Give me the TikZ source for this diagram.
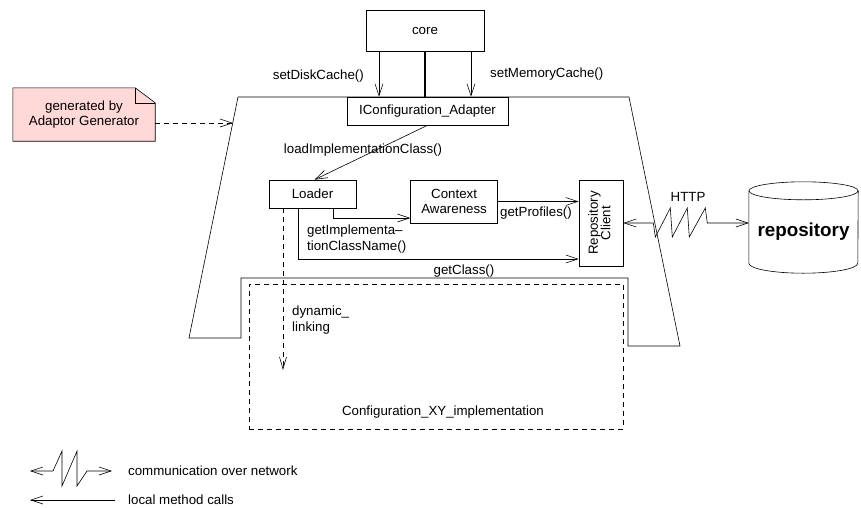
\documentclass[tikz,border=0pt]{standalone}
\usepackage{fontspec}
\setmainfont{Liberation Sans}
\usetikzlibrary{positioning,arrows.meta,backgrounds}
\definecolor{rose}{RGB}{255,216,216}
\tikzset{
  boite/.style={
    rectangle,
    draw=black,line width=0.6pt,
    inner sep=0pt,
    align=center},
  boitenote/.style={
    rectangle,
    inner sep=0pt,
    minimum width=142pt,
    minimum height=53pt,
    align=center},
  texte/.style={inner sep=0pt,align=left},
  line/.style = {draw,line width=0.6pt},
  appel/.style = {line,-{Straight Barb[length=12pt,width=8pt]}},
  tirets/.style = {line,dash pattern=on 5pt off 4pt},
}

\begin{document}
\begin{tikzpicture}[x=1pt,y=-1pt,font=\fontsize{13.3}{15.5}\selectfont]
  \useasboundingbox (0,0) rectangle (861,507);
  \draw[line] (238,97) -- (629,97) -- (680,346) -- (628,346) -- (628,278)
    -- (241,278) -- (241,338) -- (189,338) -- cycle;
  \coordinate (bord_gauche) at (233,123);

  \node[boite,minimum width=118pt,minimum height=41pt](core) at (425,30.5) {core};
  \node[boite,minimum width=161pt,minimum height=28pt](iconfiguration_adapter) at (427.5,111) {IConfiguration\_Adapter};
  \coordinate (core_g) at ([xshift=-46pt]core.south);
  \coordinate (core_d) at ([xshift=46pt]core.south);
  \draw[appel] (core_g) -- (core_g |- iconfiguration_adapter.north);
  \draw[line,line width=1.5pt] (core.south) -- (core.south |- iconfiguration_adapter.north);
  \draw[appel] (core_d) -- (core_d |- iconfiguration_adapter.north);
  \node[texte,anchor=east](set_disk_cache) at (364,76) {setDiskCache()};
  \node[texte,anchor=west](set_memory_cache) at (490,74) {setMemoryCache()};

  \node[boitenote](note) at (84,114.5) {generated by\\Adaptor Generator};
  \begin{scope}[on background layer]
    \filldraw[line,fill=rose] (note.north west) -- ([xshift=-20pt]note.north east)
      -- ([yshift=-15pt]note.north east) -- (note.south east) -- (note.south west) -- cycle;
  \end{scope}
  \draw[line] ([xshift=-20pt]note.north east) |- ([yshift=-15pt]note.north east);
  \draw[tirets,-{Straight Barb[length=12pt,width=8pt]}] ([yshift=-8.5pt]note.east) -- (bord_gauche);

  \node[boite,minimum width=87pt,minimum height=28pt](loader) at (312.5,194) {Loader};
  \node[boite,minimum width=87pt,minimum height=43pt](context_awareness)[right=54pt of loader.north east,anchor=north west] {Context\\Awareness};
  \node[boite,minimum width=44pt,minimum height=86pt](repository_client) at (601,223)
    {\rotatebox{90}{\begin{tabular}{@{}c@{}}Repository\\[-3pt]Client\end{tabular}}};
  \draw[appel] (iconfiguration_adapter.south) -- ([xshift=2pt]loader.north);
  \node[texte](load_implementation_class) at (363,150) {loadImplementationClass()};
  \draw[appel] ([xshift=20.5pt]loader.south) |- ([yshift=-16.5pt]context_awareness.west);
  \draw[appel] (context_awareness.east) -- (context_awareness.east -| repository_client.west);
  \node[texte](get_profiles) at (536,213) {getProfiles()};
  \draw[appel] ([xshift=-14.5pt]loader.south) |- ([yshift=-36pt]repository_client.west);
  \node[texte,anchor=west](get_implementation_class_name) at (307,239) {getImplementa--\\tionClassName()};
  \node[texte](get_class) at (464,271) {getClass()};

  \node[tirets,minimum width=374pt,minimum height=145pt,inner sep=0pt](configuration_xy) at (436,356.5) {};
  \node[texte,above=11pt of configuration_xy.south,xshift=7pt](configuration_nom) {Configuration\_XY\_implementation};
  \coordinate (fin_liaison) at (283,370);
  \draw[tirets,-{Straight Barb[length=12pt,width=7pt]}] ([xshift=-29.5pt]loader.south) -- (fin_liaison);
  \node[texte,anchor=west](dynamic_linking) at (292,320) {dynamic\_\\linking};

  \node[rectangle,minimum width=109pt,minimum height=91pt,inner sep=0pt,
    label={[yshift=-4pt,font=\fontsize{18.8}{22}\selectfont\bfseries]center:repository}](repository) at (803.5,227.5) {};
  \draw[line] ([yshift=-9pt]repository.north west) -- ([yshift=10pt]repository.south west)
    arc[start angle=180,end angle=360,x radius=54.5pt,y radius=10pt]
    -- ([yshift=-9pt]repository.north east);
  \draw[line] ([yshift=-9pt]repository.north) ellipse[x radius=54.5pt,y radius=9pt];
  \draw[line,{Straight Barb[length=12pt,width=8pt]}-{Straight Barb[length=12pt,width=8pt]}]
    (repository_client.east) -- ++(30,0) -- ++(2,14) -- ++(15,-29) -- ++(2,29) -- ++(15,-29)
    -- ++(2,29) -- ++(16,-29) -- ++(2,15) -- (repository.west |- repository_client.east);
  \node[texte](http) at (688,197) {HTTP};

  \node[texte,anchor=west](legende_reseau) at (128,471) {communication over network};
  \node[texte,anchor=west](legende_locale) at (128,500) {local method calls};
  \draw[line,{Straight Barb[length=12pt,width=8pt]}-{Straight Barb[length=12pt,width=8pt]}]
    ([xshift=-98pt]legende_reseau.west) -- ++(23,0) -- ++(9,-20) -- ++(0,35) -- ++(15,-35)
    -- ++(0,35) -- ++(10,-15) -- ([xshift=-16pt]legende_reseau.west);
  \draw[appel] ([xshift=-13pt]legende_locale.west) -- ++(-85,0);
\end{tikzpicture}
\end{document}
